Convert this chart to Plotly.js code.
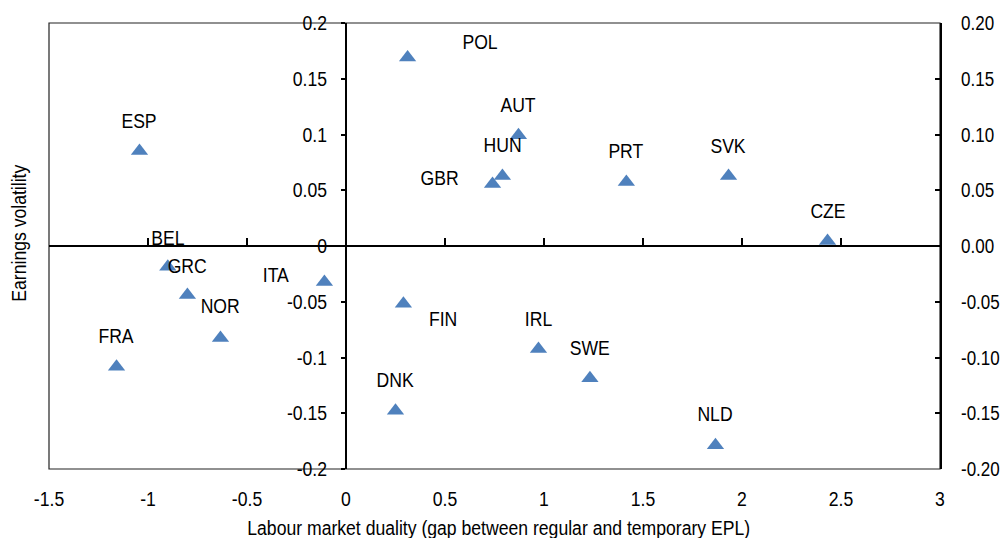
<!DOCTYPE html>
<html>
<head>
<meta charset="utf-8">
<script src="https://cdn.plot.ly/plotly-3.0.1.min.js"></script>
<style>
html,body{margin:0;padding:0;background:#fff;}
#chart{width:1000px;height:538px;}
</style>
</head>
<body>
<div id="chart"></div>
<script>
// ---- Data ----
const countries = ["POL","AUT","HUN","GBR","PRT","SVK","CZE","ESP","BEL","GRC","NOR","FRA","ITA","FIN","IRL","SWE","DNK","NLD"];
const duality   = [0.311, 0.871, 0.790, 0.740, 1.416, 1.932, 2.432, -1.043, -0.900, -0.801, -0.634, -1.159, -0.109, 0.290, 0.972, 1.232, 0.250, 1.866];
const volatility= [0.169, 0.0994, 0.0627, 0.0555, 0.0573, 0.0627, 0.0045, 0.0851, -0.0185, -0.0439, -0.0824, -0.1084, -0.0322, -0.0519, -0.0923, -0.1187, -0.1478, -0.1787];

const xTickVals  = [-1.5, -1, -0.5, 0, 0.5, 1, 1.5, 2, 2.5, 3];
const xTickText  = ["-1.5","-1","-0.5","0","0.5","1","1.5","2","2.5","3"];
const yTickVals  = [-0.2, -0.15, -0.1, -0.05, 0, 0.05, 0.1, 0.15, 0.2];
const yTickLeft  = ["-0.2","-0.15","-0.1","-0.05","0","0.05","0.1","0.15","0.2"];
const yTickRight = ["-0.20","-0.15","-0.10","-0.05","0.00","0.05","0.10","0.15","0.20"];

const xTitle = "Labour market duality (gap between regular and temporary EPL)";
const yTitle = "Earnings volatility";

// label offsets in pixels (style only)
const defaultOffset = [0, 30];
const labelOffsets = {
  POL: [72, 16], GBR: [-53, 6], ITA: [-48, 6.5], FIN: [40, -15.5],
  HUN: [0, 31], PRT: [0, 31], DNK: [0, 31], NLD: [0, 31.5], NOR: [0, 32], FRA: [0, 31],
  BEL: [0, 29], GRC: [0, 29]
};

const FONT = "'Liberation Sans', Arial, sans-serif";
const FS = 20;
const NARROW = 0.88;       // horizontal condensing to mimic a narrow typeface
const NARROW_RIGHT = 0.85; // right-hand tick labels

const trace = {
  type: "scatter", mode: "markers",
  x: duality, y: volatility, text: countries, hoverinfo: "text",
  marker: {symbol: "triangle-up", size: 15, color: "#4F81BD"},
  showlegend: false, cliponaxis: false
};
// empty helper traces so the overlaying axes get drawn
const helperX2 = {type: "scatter", mode: "markers", x: [null], y: [null], xaxis: "x2", yaxis: "y", showlegend: false, hoverinfo: "skip"};
const helperY2 = {type: "scatter", mode: "markers", x: [null], y: [null], xaxis: "x", yaxis: "y2", showlegend: false, hoverinfo: "skip"};

const annotations = countries.map((c, i) => {
  const off = labelOffsets[c] || defaultOffset;
  return {
    x: duality[i], y: volatility[i], xref: "x", yref: "y",
    text: c, showarrow: false, xanchor: "center", yanchor: "middle",
    xshift: off[0], yshift: off[1],
    font: {family: FONT, size: FS, color: "#000"}
  };
});
annotations.push({
  xref: "paper", yref: "paper", x: 0.5, y: 0, yshift: -59, xshift: 4,
  text: xTitle, showarrow: false, xanchor: "center", yanchor: "middle",
  font: {family: FONT, size: FS, color: "#000"}
});
annotations.push({
  xref: "paper", yref: "paper", x: 0, y: 0.5, xshift: -30, yshift: 13,
  text: yTitle, showarrow: false, textangle: -90, xanchor: "center", yanchor: "middle",
  font: {family: FONT, size: FS, color: "#000"}
});

const layout = {
  width: 1000, height: 538,
  margin: {l: 49, r: 60, t: 23, b: 69},
  paper_bgcolor: "#fff", plot_bgcolor: "#fff",
  font: {family: FONT, size: FS, color: "#000"},
  showlegend: false,
  xaxis: {
    range: [-1.5, 3], autorange: false, tickmode: "array", tickvals: xTickVals, ticktext: xTickText,
    ticks: "", showline: false, showgrid: false, zeroline: false, ticklabelstandoff: 16,
    tickfont: {family: FONT, size: FS, color: "#000"}
  },
  xaxis2: {
    overlaying: "x", anchor: "free", position: 0.5, side: "top",
    range: [-1.5, 3], autorange: false, tickmode: "array", tickvals: xTickVals.slice(1, -1),
    ticks: "outside", ticklen: 7, tickwidth: 2, tickcolor: "#000",
    showticklabels: false, showline: true, linewidth: 2, linecolor: "#000",
    showgrid: false, zeroline: false
  },
  yaxis: {
    range: [-0.2, 0.2], autorange: false, anchor: "free", position: 1/3, side: "left",
    tickmode: "array", tickvals: yTickVals, ticktext: yTickLeft,
    ticks: "outside", ticklen: 4, tickwidth: 2, tickcolor: "#000",
    showline: true, linewidth: 2, linecolor: "#000",
    showgrid: false, zeroline: false, ticklabelstandoff: 10,
    tickfont: {family: FONT, size: FS, color: "#000"}
  },
  yaxis2: {
    overlaying: "y", anchor: "x", side: "right",
    range: [-0.2, 0.2], autorange: false, tickmode: "array", tickvals: yTickVals, ticktext: yTickRight,
    ticks: "inside", ticklen: 5, tickwidth: 2, tickcolor: "#000",
    showline: true, linewidth: 2, linecolor: "#000",
    showgrid: false, zeroline: false, ticklabelstandoff: 15,
    tickfont: {family: FONT, size: FS, color: "#000"}
  },
  shapes: [{
    type: "rect", xref: "paper", yref: "paper", x0: 0, x1: 1, y0: 0, y1: 1,
    line: {color: "#222", width: 1.2}, layer: "below"
  }],
  annotations: annotations
};

Plotly.newPlot("chart", [trace, helperX2, helperY2], layout, {staticPlot: true, displayModeBar: false})
  .then(gd => {
    gd.querySelectorAll("svg text").forEach(t => {
      const w = t.getComputedTextLength();
      if (w > 0) {
        const p = t.parentNode;
        const isRight = p && p.getAttribute("class") && p.getAttribute("class").indexOf("y2tick") >= 0;
        t.setAttribute("textLength", (w * (isRight ? NARROW_RIGHT : NARROW)).toFixed(2));
        t.setAttribute("lengthAdjust", "spacingAndGlyphs");
      }
    });
  });
</script>
</body>
</html>
